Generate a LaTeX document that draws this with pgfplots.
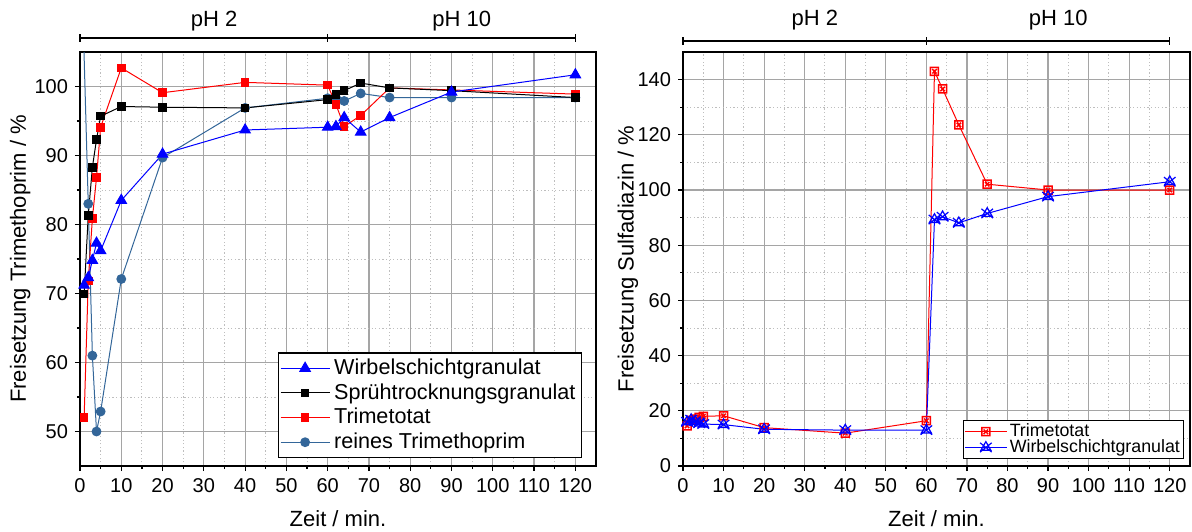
\documentclass[border=0pt]{standalone}
\usepackage{fontspec}
\setmainfont{Liberation Sans}
\usepackage{pgfplots}
\pgfplotsset{compat=1.18}

\definecolor{steel}{RGB}{51,102,153}
\definecolor{gridmaj}{RGB}{165,165,165}
\definecolor{gridmin}{RGB}{190,190,190}

% square with a cross inside
\pgfdeclareplotmark{boxx}{%
  \pgfpathrectangle{\pgfqpoint{-\pgfplotmarksize}{-\pgfplotmarksize}}{\pgfqpoint{2\pgfplotmarksize}{2\pgfplotmarksize}}%
  \pgfpathmoveto{\pgfqpoint{-.55\pgfplotmarksize}{-.55\pgfplotmarksize}}%
  \pgfpathlineto{\pgfqpoint{.55\pgfplotmarksize}{.55\pgfplotmarksize}}%
  \pgfpathmoveto{\pgfqpoint{-.55\pgfplotmarksize}{.55\pgfplotmarksize}}%
  \pgfpathlineto{\pgfqpoint{.55\pgfplotmarksize}{-.55\pgfplotmarksize}}%
  \pgfusepathqstroke}
% triangle with a cross over it
\pgfdeclareplotmark{trix}{%
  \pgfpathmoveto{\pgfqpoint{0pt}{\pgfplotmarksize}}%
  \pgfpathlineto{\pgfqpoint{-.866\pgfplotmarksize}{-.5\pgfplotmarksize}}%
  \pgfpathlineto{\pgfqpoint{.866\pgfplotmarksize}{-.5\pgfplotmarksize}}%
  \pgfpathclose
  \pgfpathmoveto{\pgfqpoint{-\pgfplotmarksize}{-.8\pgfplotmarksize}}%
  \pgfpathlineto{\pgfqpoint{\pgfplotmarksize}{.8\pgfplotmarksize}}%
  \pgfpathmoveto{\pgfqpoint{-\pgfplotmarksize}{.8\pgfplotmarksize}}%
  \pgfpathlineto{\pgfqpoint{\pgfplotmarksize}{-.8\pgfplotmarksize}}%
  \pgfusepathqstroke}

\pgfplotsset{
  myax/.style={
    scale only axis, anchor=south west,
    xmin=0, xmax=125, xtick={0,10,...,120}, minor x tick num=1,
    grid=both,
    major grid style={gridmaj, line width=0.6pt},
    minor grid style={gridmin, dash pattern=on 0.6pt off 1.2pt, line width=0.5pt},
    tick align=outside, xtick pos=left, ytick pos=left,
    major tick length=2.5pt, minor tick length=1.5pt,
    tick style={black, line width=0.6pt},
    axis line style={line width=1pt},
    ticklabel style={font=\fontsize{10}{12}\selectfont},
    /pgf/number format/assume math mode=true,
    label style={font=\fontsize{11}{13}\selectfont},
    xlabel={Zeit / min.},
    xlabel style={at={(axis description cs:0.5,-0.128)}, anchor=center},
  },
  ln/.style={line width=0.5pt},
}

\begin{document}
\begin{tikzpicture}
\useasboundingbox (0,0) rectangle (596pt,265.5pt);

% ---------------- left: Trimethoprim
\begin{axis}[myax, at={(40pt,32.5pt)}, width=258pt, height=207pt,
  ymin=45, ymax=105, ytick={50,60,...,100}, minor y tick num=1,
  ylabel={Freisetzung Trimethoprim / \%},
  ylabel style={at={(axis description cs:-0.116,0.5)}, anchor=center},
  legend style={at={(0.973,0.019)}, anchor=south east, draw=black, line width=0.6pt,
    font=\fontsize{10.8}{13}\selectfont, cells={anchor=west}, inner sep=1pt, row sep=-1pt},
  legend image code/.code={\draw[mark repeat=2, mark phase=2] plot coordinates {(0pt,0pt) (12.25pt,0pt) (24.5pt,0pt)};},
]
\coordinate (La) at (axis cs:0,105);
\coordinate (Lb) at (axis cs:60,105);
\coordinate (Lc) at (axis cs:120,105);
\coordinate (Lt1) at (axis cs:32.5,105);
\coordinate (Lt2) at (axis cs:92.5,105);

\addplot[steel, ln, mark=*, mark size=2.2pt, mark options={fill=steel}, forget plot] coordinates {
  (0.5,115) (2,83.0) (3,61.0) (4,50.0) (5,52.9) (10,72.1) (20,89.7) (40,96.9)
  (60,98.3) (62,98.4) (64,97.9) (68,99.0) (75,98.4) (90,98.4) (120,98.4)};
\addplot[red, ln, mark=square*, mark size=1.9pt, mark options={fill=red}, forget plot] coordinates {
  (1,52.0) (2,71.8) (3,80.9) (4,86.8) (5,94.1) (10,102.7) (20,99.1) (40,100.6)
  (60,100.2) (62,97.4) (64,94.2) (68,95.8) (75,99.8) (120,98.9)};
\addplot[black, ln, mark=square*, mark size=1.9pt, forget plot] coordinates {
  (1,69.9) (2,81.3) (3,88.3) (4,92.3) (5,95.7) (10,97.1) (20,97.0) (40,96.9)
  (60,98.1) (62,98.8) (64,99.4) (68,100.5) (75,99.8) (90,99.4) (120,98.4)};
\addplot[blue, ln, mark=triangle*, mark size=3pt, mark options={fill=blue}, forget plot] coordinates {
  (1,71.2) (2,72.3) (3,74.8) (4,77.3) (5,76.2) (10,83.5) (20,90.2) (40,93.7)
  (60,94.1) (62,94.2) (64,95.5) (68,93.4) (75,95.5) (90,99.2) (120,101.7)};

\addlegendimage{blue, ln, mark=triangle*, mark size=3pt, mark options={fill=blue}}
\addlegendentry{Wirbelschichtgranulat}
\addlegendimage{black, ln, mark=square*, mark size=1.9pt}
\addlegendentry{Sprühtrocknungsgranulat}
\addlegendimage{red, ln, mark=square*, mark size=1.9pt, mark options={fill=red}}
\addlegendentry{Trimetotat}
\addlegendimage{steel, ln, mark=*, mark size=2.2pt, mark options={fill=steel}}
\addlegendentry{reines Trimethoprim}
\end{axis}

\draw[line width=0.6pt] ([yshift=7pt]La) -- ([yshift=7pt]Lc);
\foreach \p in {La,Lb,Lc} \draw[line width=0.6pt] ([yshift=5.2pt]\p) -- ([yshift=8.8pt]\p);
\node[font=\fontsize{11}{13}\selectfont] at ([yshift=15.5pt]Lt1) {pH 2};
\node[font=\fontsize{11}{13}\selectfont] at ([yshift=15.5pt]Lt2) {pH 10};

% ---------------- right: Sulfadiazin
\begin{axis}[myax, at={(341.5pt,32.5pt)}, width=253.5pt, height=207pt,
  ymin=0, ymax=150, ytick={0,20,...,140}, minor y tick num=1,
  ylabel={Freisetzung Sulfadiazin / \%},
  ylabel style={at={(axis description cs:-0.1085,0.5)}, anchor=center},
  legend style={at={(0.988,0.016)}, anchor=south east, draw=black, line width=0.6pt,
    font=\fontsize{8.9}{10}\selectfont, cells={anchor=west}, inner sep=0.5pt, row sep=-2.5pt,
    nodes={inner sep=1.2pt}},
  legend image code/.code={\draw[mark repeat=2, mark phase=2] plot coordinates {(0pt,0pt) (10.5pt,0pt) (21pt,0pt)};},
]
\coordinate (Ra) at (axis cs:0,150);
\coordinate (Rb) at (axis cs:60,150);
\coordinate (Rc) at (axis cs:120,150);
\coordinate (Rt1) at (axis cs:32.5,150);
\coordinate (Rt2) at (axis cs:92.5,150);

\addplot[red, ln, mark=boxx, mark size=2pt, mark options={line width=0.75pt}] coordinates {
  (1,14.5) (2,16.5) (3,17.0) (4,17.6) (5,18.0) (10,18.2) (20,13.9) (40,11.9)
  (60,16.4) (62,143.0) (64,136.6) (68,123.6) (75,102.1) (90,100.0) (120,100.0)};
\addlegendentry{Trimetotat}
\addplot[blue, ln, mark=trix, mark size=2.9pt, mark options={line width=0.6pt}] coordinates {
  (1,16.0) (2,16.8) (3,16.2) (4,15.5) (5,15.2) (10,15.0) (20,13.3) (40,13.0)
  (60,13.0) (62,89.3) (64,90.3) (68,88.1) (75,91.5) (90,97.6) (120,103.0)};
\addlegendentry{Wirbelschichtgranulat}
\end{axis}

\draw[line width=0.6pt] ([yshift=5.5pt]Ra) -- ([yshift=5.5pt]Rc);
\foreach \p in {Ra,Rb,Rc} \draw[line width=0.6pt] ([yshift=3.7pt]\p) -- ([yshift=7.3pt]\p);
\node[font=\fontsize{11}{13}\selectfont] at ([yshift=16pt]Rt1) {pH 2};
\node[font=\fontsize{11}{13}\selectfont] at ([yshift=16pt]Rt2) {pH 10};
\end{tikzpicture}
\end{document}
